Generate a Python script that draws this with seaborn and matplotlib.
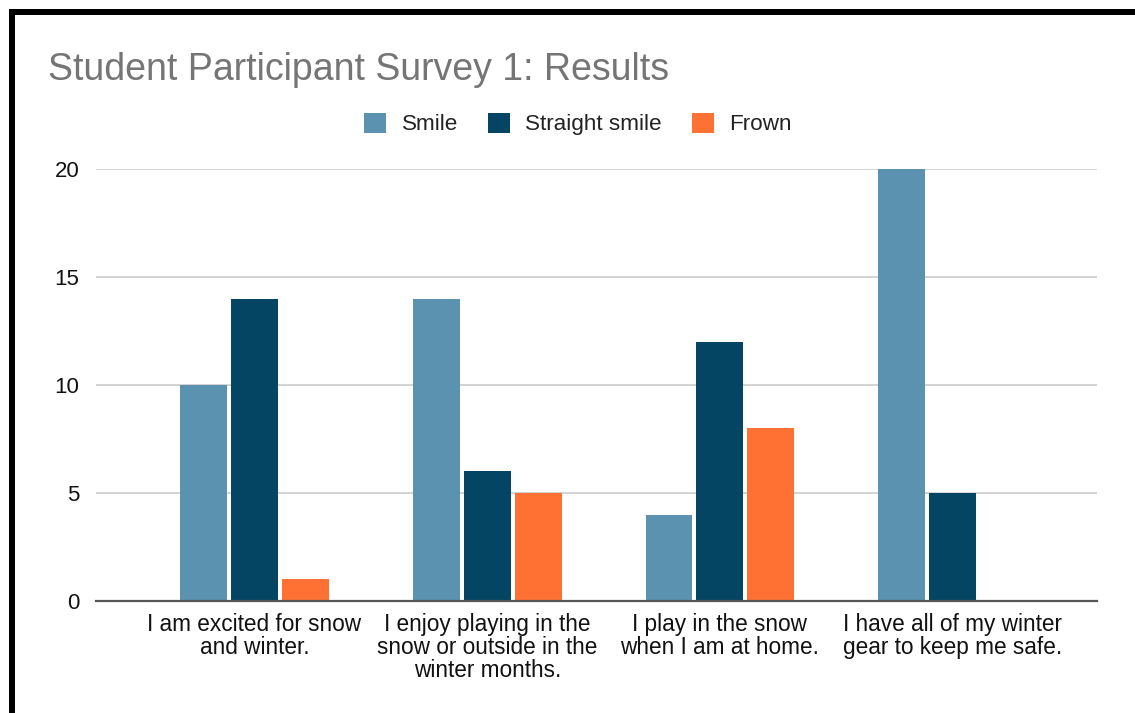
import matplotlib
matplotlib.use("Agg")
import matplotlib.pyplot as plt
from matplotlib.patches import Rectangle, Patch
import seaborn as sns
import pandas as pd

questions = [
    "I am excited for snow\nand winter.",
    "I enjoy playing in the\nsnow or outside in the\nwinter months.",
    "I play in the snow\nwhen I am at home.",
    "I have all of my winter\ngear to keep me safe.",
]
responses = ["Smile", "Straight smile", "Frown"]
smile = [10, 14, 4, 20]
straight_smile = [14, 6, 12, 5]
frown = [1, 5, 8, 0]
colors = ["#5A92AF", "#034563", "#FF7033"]
y_ticks = [0, 5, 10, 15, 20]

rows = []
for name, vals in zip(responses, [smile, straight_smile, frown]):
    for q, v in zip(questions, vals):
        rows.append({"question": q, "response": name, "count": v})
df = pd.DataFrame(rows)

sns.set_theme(style="white")
plt.rcParams["font.family"] = ["Liberation Sans", "DejaVu Sans"]

fig = plt.figure(figsize=(11.35, 7.13), dpi=100)
ax = fig.add_axes([96 / 1135, 112 / 713, 1001 / 1135, 432 / 713])

sns.barplot(data=df, x="question", y="count", hue="response",
            hue_order=responses, order=questions, palette=colors,
            saturation=1, width=0.657, gap=0.078, dodge=True, legend=False,
            ax=ax, edgecolor="none", linewidth=0)

ax.set_xlim(-0.681, 3.62)
ax.set_ylim(0, 20)
ax.set_yticks(y_ticks)
ax.set_yticklabels([str(t) for t in y_ticks])
ax.grid(axis="y", color="#cccccc", linewidth=1.2)
ax.set_axisbelow(True)
for s in ["top", "right", "left"]:
    ax.spines[s].set_visible(False)
ax.spines["bottom"].set_color("#555555")
ax.spines["bottom"].set_linewidth(1.6)
ax.spines["bottom"].set_zorder(5)
ax.set_xlabel("")
ax.set_ylabel("")
ax.tick_params(axis="y", length=0, pad=12, labelsize=16, labelcolor="#111111")
ax.tick_params(axis="x", length=0, pad=8.5, labelsize=16.3, labelcolor="#111111")
for lbl in ax.get_xticklabels():
    lbl.set_linespacing(1.0)
    lbl.set_ha("center")

fig.text(48 / 1135, 1 - 70 / 713, "Student Participant Survey 1: Results",
         color="#757575", fontsize=27, va="center", ha="left")

handles = [Patch(facecolor=c, edgecolor="none", label=r) for c, r in zip(colors, responses)]
fig.legend(handles=handles, loc="center", bbox_to_anchor=(578 / 1135, 1 - 124 / 713),
           ncol=3, frameon=False, fontsize=16.2, handlelength=1.0, handleheight=1.0,
           handletextpad=0.67, columnspacing=1.33, labelcolor="#222222")

# Black frame along the top and left edges
fig.patches.append(Rectangle((9 / 1135, 1 - 15 / 713), 1 - 9 / 1135, 6 / 713,
                             transform=fig.transFigure, facecolor="black",
                             edgecolor="none", zorder=10))
fig.patches.append(Rectangle((9 / 1135, 0), 6 / 1135, 1 - 9 / 713,
                             transform=fig.transFigure, facecolor="black",
                             edgecolor="none", zorder=10))

fig.savefig("out.png", dpi=100, facecolor="white")
